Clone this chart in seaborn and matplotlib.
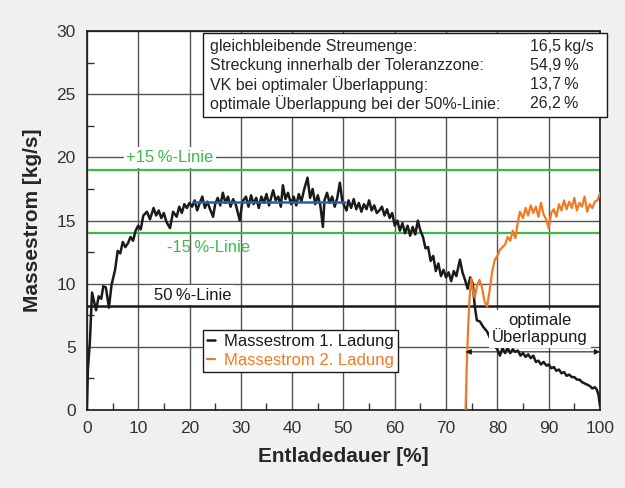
import numpy as np
import pandas as pd
import matplotlib
matplotlib.use("Agg")
import matplotlib.pyplot as plt
import seaborn as sns
from matplotlib.patches import Rectangle

# Massestrom 1. Ladung
x1 = [0, 0.2, 0.6, 1.0, 1.4, 1.8, 2.3, 2.8, 3.2, 3.7, 4.3, 4.8, 5.5, 6.0, 6.5, 7.0, 7.5, 8.0, 8.5, 9.0,
      9.5, 10.0, 10.5, 11.0, 11.7, 12.3, 13.0, 13.5, 14.0, 14.5, 15.0, 15.5, 16.2, 16.8, 17.5, 18.0, 18.5,
      19.0, 19.5, 20.0, 20.5, 21.0, 21.5, 22.0, 22.5, 23.0, 23.5, 24.0, 24.6, 25.0, 25.5, 26.0, 26.5, 27.0,
      27.5, 28.0, 28.5, 29.0, 29.8, 30.3, 31.0, 31.5, 32.0, 32.5, 33.0, 33.5, 34.0, 34.5, 35.0, 35.5, 36.3,
      36.8, 37.3, 37.8, 38.2, 38.7, 39.2, 39.8, 40.3, 40.8, 41.3, 41.8, 42.3, 43.0, 43.5, 44.0, 44.5, 45.0,
      45.5, 46.0, 46.3, 46.8, 47.3, 47.8, 48.3, 48.8, 49.3, 49.8, 50.6, 51.0, 51.5, 52.0, 52.5, 53.0, 53.5,
      54.0, 54.5, 55.0, 55.5, 56.0, 56.5, 57.0, 57.5, 58.0, 58.5, 59.0, 59.5, 60.0, 60.5, 61.0, 61.5, 62.0,
      62.5, 63.0, 63.5, 64.0, 64.5, 65.0, 65.5, 66.0, 66.5, 67.0, 67.5, 68.0, 68.5, 69.0, 69.5, 70.0, 70.5,
      71.0, 71.5, 72.0, 72.7, 73.2, 73.7, 74.2, 74.7, 75.2, 75.6, 76.0, 76.6, 77.2, 78.0, 79.0, 80.0, 80.5,
      81.0, 81.5, 82.0, 82.5, 83.0, 83.5, 84.0, 84.5, 85.0, 85.5, 86.0, 86.5, 87.0, 87.5, 88.0, 88.5, 89.0,
      89.6, 90.0, 90.5, 91.0, 91.5, 92.0, 92.5, 93.0, 93.5, 94.0, 94.5, 95.0, 95.5, 96.0, 96.5, 97.0, 97.5,
      98.0, 98.5, 99.0, 99.4, 99.7, 100.0]
y1 = [0, 3.2, 5.5, 9.3, 8.6, 7.9, 9.0, 8.8, 9.8, 9.7, 8.1, 9.9, 11.1, 12.6, 12.4, 13.3, 12.9, 13.2, 13.7, 13.4,
      14.2, 14.6, 14.3, 15.4, 15.7, 15.1, 16.0, 15.4, 15.8, 15.2, 15.6, 14.9, 14.4, 15.7, 15.3, 16.1, 15.6,
      16.3, 16.0, 16.4, 16.1, 16.6, 15.8, 16.4, 16.9, 16.0, 16.5, 15.9, 15.3, 16.3, 16.8, 16.2, 17.2, 16.4,
      16.9, 16.1, 16.7, 16.3, 15.0, 16.5, 16.9, 16.1, 17.0, 16.3, 16.8, 16.0, 16.9, 16.4, 17.1, 16.2, 17.4,
      16.6, 16.9, 16.1, 17.8, 16.7, 17.2, 16.3, 16.9, 16.2, 17.1, 16.5, 17.4, 18.4, 16.8, 17.5, 16.3, 17.0,
      16.2, 14.5, 16.6, 17.2, 16.4, 16.9, 16.1, 16.8, 18.0, 16.5, 15.8, 16.6, 16.0, 16.7, 15.9, 16.4, 15.7,
      16.3, 15.9, 16.6, 15.8, 16.2, 15.6, 15.8, 16.1, 15.4, 15.9, 15.2, 15.6, 14.6, 15.0, 14.2, 14.8, 14.0,
      14.6, 13.8, 14.5, 13.9, 15.0, 14.2, 13.7, 12.8, 12.9, 11.8, 12.2, 11.0, 11.6, 10.6, 11.1, 10.5, 10.9,
      10.2, 11.0, 10.6, 11.9, 10.9, 10.3, 9.6, 10.5, 10.0, 8.2, 7.1, 7.0, 6.6, 6.2, 5.3, 4.8, 4.3,
      4.9, 4.5, 4.9, 4.5, 4.8, 4.6, 4.7, 4.3, 4.5, 4.2, 4.4, 4.1, 4.3, 3.8, 3.9, 3.6, 3.8,
      3.5, 3.6, 3.3, 3.4, 3.1, 3.2, 2.9, 3.0, 2.7, 2.8, 2.6, 2.6, 2.4, 2.4, 2.2, 2.1, 2.0,
      1.9, 1.7, 1.8, 1.6, 1.2, 0.3]

# Massestrom 2. Ladung
x2 = [73.8, 74.0, 74.3, 74.6, 74.9, 75.2, 75.6, 76.0, 76.5, 77.0, 77.5, 78.0, 78.5, 79.0, 79.5, 80.0, 80.5,
      81.0, 81.5, 82.0, 82.5, 83.0, 83.5, 84.0, 84.4, 85.0, 85.5, 86.0, 86.5, 87.0, 87.5, 88.0, 88.5, 89.0,
      89.5, 90.0, 90.5, 91.0, 91.5, 92.0, 92.5, 93.0, 93.5, 94.0, 94.5, 95.0, 95.5, 96.0, 96.5, 97.0, 97.5,
      98.0, 98.5, 99.0, 99.5, 100.0]
y2 = [0, 3.0, 6.5, 9.0, 10.4, 9.5, 8.9, 9.8, 10.3, 9.7, 8.6, 8.2, 9.5, 11.0, 11.9, 12.2, 12.7,
      12.9, 13.1, 13.7, 13.4, 14.2, 13.6, 14.9, 15.7, 15.2, 16.0, 15.4, 16.2, 15.6, 16.1, 15.3, 16.4, 15.5,
      15.1, 14.4, 15.6, 15.9, 15.3, 16.3, 15.8, 16.6, 15.9, 16.5, 16.0, 16.8, 15.8, 16.4, 16.1, 16.9, 15.7,
      16.3, 16.0, 16.5, 16.6, 17.2]

streumenge = 16.5
mittel_von, mittel_bis = 20.7, 50.3
ueberlapp_start = 73.8
info_labels = ["gleichbleibende Streumenge:", "Streckung innerhalb der Toleranzzone:",
               "VK bei optimaler Überlappung:", "optimale Überlappung bei der 50%-Linie:"]
info_values = ["16,5\u2009kg/s", "54,9\u2009%", "13,7\u2009%", "26,2\u2009%"]

black = "#1a1a1a"
orange = "#f27a24"
green = "#3dba4a"
blue = "#2a5fa6"

sns.set_style("white")
plt.rcParams["font.family"] = ["Liberation Sans", "DejaVu Sans"]

fig = plt.figure(figsize=(6.25, 4.88), dpi=100, facecolor="#f0f0f0")
ax = fig.add_axes([0.139, 0.160, 0.821, 0.776])
ax.set_facecolor("white")

d1 = pd.DataFrame({"x": x1, "y": y1})
d2 = pd.DataFrame({"x": x2, "y": y2})
sns.lineplot(data=d1, x="x", y="y", ax=ax, color=black, lw=1.8, sort=False,
             label="Massestrom 1. Ladung", zorder=3)
sns.lineplot(data=d2, x="x", y="y", ax=ax, color=orange, lw=1.6, sort=False,
             label="Massestrom 2. Ladung", zorder=4)

# tolerance lines
ax.axhline(streumenge * 1.15, color=green, lw=1.6, zorder=2)
ax.axhline(streumenge * 0.85, color=green, lw=1.6, zorder=2)
ax.axhline(streumenge * 0.5, color=black, lw=1.8, zorder=2)
ax.plot([mittel_von, mittel_bis], [streumenge, streumenge], color=blue, lw=1.8, zorder=5)

ax.text(16.2, 20, "+15\u2009%-Linie", color=green, fontsize=12, ha="center", va="center",
        bbox=dict(fc="white", ec="none", pad=2), zorder=2.5)
ax.text(23.8, 12.9, "-15\u2009%-Linie", color=green, fontsize=12, ha="center", va="center", zorder=2.5)
ax.text(20.6, 9.1, "50\u2009%-Linie", color=black, fontsize=12, ha="center", va="center",
        bbox=dict(fc="white", ec="none", pad=2), zorder=2.5)

# optimal overlap annotation
ax.plot([ueberlapp_start, ueberlapp_start], [0, 4.6], color=black, lw=0.8, zorder=3.5)
ax.annotate("", xy=(ueberlapp_start, 4.6), xytext=(100, 4.6),
            arrowprops=dict(arrowstyle="<|-|>", lw=0.8, color=black, shrinkA=0, shrinkB=0,
                            mutation_scale=8), zorder=6)
ax.text(88.3, 6.4, "optimale\nÜberlappung", fontsize=12, ha="center", va="center", color=black,
        linespacing=1.0, bbox=dict(fc="white", ec="none", pad=2), zorder=5.5)

# info box (overhangs the right edge)
ax.add_patch(Rectangle((22.6, 23.2), 78.8, 6.65, fc="white", ec=black, lw=1.0,
                       clip_on=False, zorder=6))
for i, (lab, val) in enumerate(zip(info_labels, info_values)):
    yy = 28.8 - i * 1.5
    ax.text(24.0, yy, lab, fontsize=11.5, va="center", ha="left", zorder=7)
    ax.text(86.4, yy, val, fontsize=11.5, va="center", ha="left", zorder=7)

ax.set_xlim(0, 100)
ax.set_ylim(0, 30)
ax.set_xticks(range(0, 101, 10))
ax.set_yticks(range(0, 31, 5))
ax.set_xticks(range(5, 100, 10), minor=True)
ax.set_yticks([2.5, 7.5, 12.5, 17.5, 22.5, 27.5], minor=True)
ax.tick_params(which="major", direction="out", length=6, width=1, color="#333333",
               labelsize=12.5, labelcolor="#333333", pad=2)
ax.tick_params(which="minor", direction="in", length=5, width=1, color="#333333",
               bottom=True, left=True)
ax.grid(True, which="major", color="#555555", lw=1.0, zorder=0)
ax.set_axisbelow(True)
for s in ax.spines.values():
    s.set_color(black)
    s.set_linewidth(1.2)

ax.set_xlabel("Entladedauer [%]", fontsize=15, fontweight="bold", labelpad=8)
ax.set_ylabel("Massestrom [kg/s]", fontsize=15, fontweight="bold", labelpad=10)

leg = ax.legend(loc="upper left", bbox_to_anchor=(22.6, 6.35), bbox_transform=ax.transData,
                fontsize=12, handlelength=0.5, handletextpad=0.5, frameon=True, fancybox=False,
                framealpha=1, edgecolor=black, borderpad=0.25, labelspacing=0.25,
                borderaxespad=0)
leg.get_frame().set_linewidth(1.0)
leg.set_zorder(7)
for t, c in zip(leg.get_texts(), [black, orange]):
    t.set_color(c)

fig.savefig("out.png", dpi=100, facecolor=fig.get_facecolor())
